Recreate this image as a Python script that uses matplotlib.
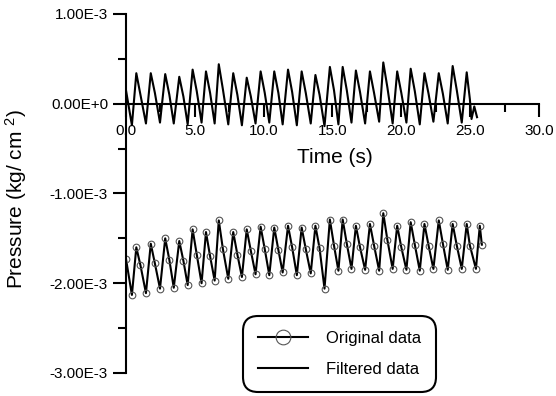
import matplotlib
matplotlib.use("Agg")
import matplotlib.pyplot as plt
from matplotlib.ticker import MultipleLocator

plt.rcParams['font.family'] = ['Liberation Sans', 'DejaVu Sans']
plt.rcParams['mathtext.fontset'] = 'custom'
plt.rcParams['mathtext.rm'] = 'Liberation Sans'

# pressure values in units of 1E-3 kg/cm2, one entry per oscillation cycle
trough_t = [0.43, 1.45, 2.47, 3.47, 4.48, 5.49, 6.44, 7.43, 8.42, 9.41, 10.41, 11.38, 12.41,
            13.42, 14.42, 15.43, 16.38, 17.37, 18.39, 19.37, 20.37, 21.34, 22.33, 23.37, 24.39]
peak_t = [0.75, 1.80, 2.85, 3.87, 4.84, 5.81, 6.74, 7.79, 8.77, 9.78, 10.77, 11.77, 12.76,
          13.76, 14.81, 15.74, 16.70, 17.72, 18.69, 19.70, 20.68, 21.68, 22.72, 23.73, 24.75]
mid_t = [1.05, 2.10, 3.15, 4.17, 5.14, 6.11, 7.04, 8.09, 9.07, 10.08, 11.07, 12.07, 13.06,
         14.06, 15.11, 16.04, 17.00, 18.02, 18.99, 20.00, 20.98, 21.98, 23.02, 24.03, 24.98]

filt_trough = [-0.24, -0.22, -0.21, -0.22, -0.23, -0.21, -0.22, -0.23, -0.24, -0.22, -0.21, -0.23, -0.24,
               -0.22, -0.25, -0.23, -0.21, -0.22, -0.20, -0.22, -0.21, -0.23, -0.20, -0.22, -0.21]
filt_peak = [0.34, 0.34, 0.33, 0.30, 0.38, 0.36, 0.44, 0.34, 0.29, 0.36, 0.36, 0.38, 0.36,
             0.32, 0.41, 0.41, 0.37, 0.36, 0.46, 0.36, 0.39, 0.34, 0.34, 0.42, 0.35]
filt_mid = [0.10, 0.12, 0.10, 0.08, 0.14, 0.12, 0.16, 0.10, 0.08, 0.12, 0.12, 0.13, 0.12,
            0.10, 0.15, 0.15, 0.13, 0.12, 0.18, 0.12, 0.14, 0.11, 0.11, 0.15, 0.05]
filt_start = [0.0, 0.15]
filt_end_t = [25.10, 25.30, 25.50]
filt_end = [-0.17, -0.03, -0.15]

orig_trough = [-2.13, -2.11, -2.06, -2.05, -2.02, -2.00, -1.97, -1.95, -1.93, -1.90, -1.91, -1.88, -1.91,
               -1.89, -2.06, -1.86, -1.84, -1.85, -1.86, -1.84, -1.85, -1.86, -1.84, -1.85, -1.84]
orig_peak = [-1.60, -1.56, -1.50, -1.53, -1.40, -1.43, -1.30, -1.43, -1.40, -1.37, -1.38, -1.36, -1.38,
             -1.36, -1.29, -1.29, -1.36, -1.34, -1.22, -1.36, -1.32, -1.34, -1.30, -1.34, -1.34]
orig_mid = [-1.80, -1.78, -1.74, -1.75, -1.68, -1.70, -1.62, -1.68, -1.64, -1.62, -1.63, -1.60, -1.62,
            -1.61, -1.58, -1.56, -1.60, -1.58, -1.52, -1.60, -1.57, -1.58, -1.56, -1.58, -1.58]
orig_start = [0.0, -1.73]
orig_end_t = [25.42, 25.70, 25.85]
orig_end = [-1.84, -1.36, -1.57]

y_ticks = [1, 0, -1, -2, -3]
y_labels = ['1.00E-3', '0.00E+0', '-1.00E-3', '-2.00E-3', '-3.00E-3']
x_ticks = [0, 5, 10, 15, 20, 25, 30]
x_labels = ['0.0', '5.0', '10.0', '15.0', '20.0', '25.0', '30.0']


def build(start, tr, pk, md, end_t, end_v):
    t = [start[0]]
    v = [start[1]]
    for i in range(len(trough_t)):
        t += [trough_t[i], peak_t[i], mid_t[i]]
        v += [tr[i], pk[i], md[i]]
    t += end_t
    v += end_v
    return t, [x * 1e-3 for x in v]


ft, fv = build(filt_start, filt_trough, filt_peak, filt_mid, filt_end_t, filt_end)
ot, ov = build(orig_start, orig_trough, orig_peak, orig_mid, orig_end_t, orig_end)

fig = plt.figure(figsize=(5.56, 3.96), dpi=100)
ax = fig.add_axes([0.2266, 0.0581, 0.7428, 0.9066])

l1, = ax.plot(ot, ov, color='black', lw=1.5, marker='o', ms=4.8, mfc='none',
              mec='#555555', mew=0.8, label='Original data')
l2, = ax.plot(ft, fv, color='black', lw=1.5, label='Filtered data')

ax.set_xlim(0, 30)
ax.set_ylim(-3e-3, 1e-3)

for s in ['top', 'right']:
    ax.spines[s].set_visible(False)
ax.spines['bottom'].set_position(('data', 0))
ax.spines['bottom'].set_linewidth(1.5)
ax.spines['left'].set_linewidth(1.5)

ax.set_yticks([v * 1e-3 for v in y_ticks], y_labels)
ax.set_xticks(x_ticks, x_labels)
ax.yaxis.set_minor_locator(MultipleLocator(0.5e-3))
ax.xaxis.set_minor_locator(MultipleLocator(2.5))
ax.tick_params(axis='both', which='major', direction='out', length=9.4, width=1.5,
               labelsize=11, colors='black')
ax.tick_params(axis='both', which='minor', direction='out', length=5.5, width=1.5)
ax.tick_params(axis='y', which='major', pad=3.5)
ax.tick_params(axis='x', which='major', pad=5)

ax.set_xlabel('Time (s)', fontsize=15)
ax.xaxis.set_label_coords(0.506, 0.627)
ax.set_ylabel(r'Pressure (kg/ cm $\mathregular{^2}$)', fontsize=15)
ax.yaxis.set_label_coords(-0.235, 0.485)

leg = ax.legend(handles=[l1, l2], loc='center', bbox_to_anchor=(0.6106, 0.106),
                bbox_transform=fig.transFigure, fontsize=12, numpoints=1,
                markerscale=2.2, handlelength=3.0, handletextpad=1.08,
                borderpad=0.9, labelspacing=0.95, frameon=True, fancybox=True)
frame = leg.get_frame()
frame.set_boxstyle('round,pad=0.,rounding_size=0.9')
frame.set_edgecolor('black')
frame.set_linewidth(1.5)
frame.set_alpha(1)

fig.savefig('out.png', dpi=100)
